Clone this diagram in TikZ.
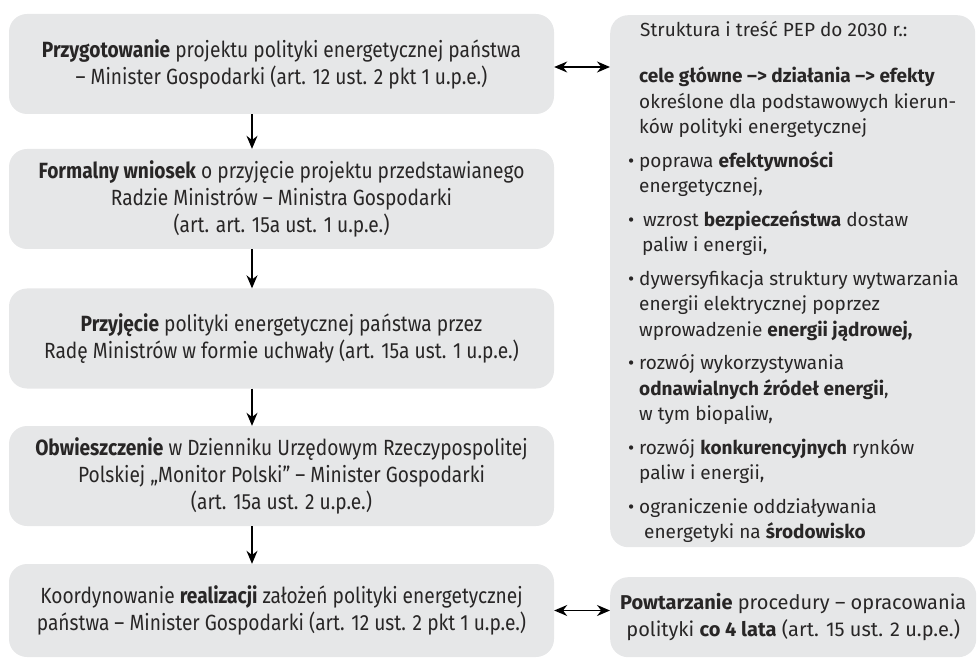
\documentclass[tikz,border=0pt]{standalone}
\usepackage{fontspec}
\setmainfont{Fira Sans}
\newfontfamily\narrowfont[FakeStretch=0.87]{Fira Sans}
\usetikzlibrary{arrows.meta}
\definecolor{boxgray}{RGB}{230,231,232}
\definecolor{textgray}{RGB}{40,38,38}
\newcommand{\pepitem}{\leavevmode\llap{\textbullet\ }}

\begin{document}
\begin{tikzpicture}[x=1pt,y=-1pt,
    stepbox/.style={rounded corners=18pt, fill=boxgray, text=textgray, align=center,
        minimum width=545pt, minimum height=100pt, inner sep=0pt,
        font=\narrowfont\fontsize{22}{27}\selectfont},
    sidebox/.style={rounded corners=18pt, fill=boxgray, text=textgray, inner sep=0pt},
    flow/.style={-{Stealth[length=13pt,width=11pt]}, line width=1.3pt},
    both/.style={{Stealth[length=13pt,width=11pt]}-{Stealth[length=13pt,width=11pt]}, line width=1.3pt}]
                \useasboundingbox (0,0) rectangle (977,660);
                
                % Procedure steps
                \node[stepbox] (prep) at (281.5, 64) {\textbf{Przygotowanie} projektu polityki energetycznej państwa\\ – Minister Gospodarki (art. 12 ust. 2 pkt 1 u.p.e.)};
                \node[stepbox] (wniosek) at (281.5, 199) {\textbf{Formalny wniosek} o przyjęcie projektu przedstawianego\\ Radzie Ministrów – Ministra Gospodarki\\ (art. art. 15a ust. 1 u.p.e.)};
                \node[stepbox] (przyj) at (281.5, 338.5) {\textbf{Przyjęcie} polityki energetycznej państwa przez\\ Radę Ministrów w formie uchwały (art. 15a ust. 1 u.p.e.)};
                \node[stepbox] (obwiesz) at (281.5, 476) {\textbf{Obwieszczenie} w Dzienniku Urzędowym Rzeczypospolitej\\ Polskiej „Monitor Polski” – Minister Gospodarki\\ (art. 15a ust. 2 u.p.e.)};
                \node[stepbox, minimum height=93pt] (koord) at (281.5, 610.5) {Koordynowanie \textbf{realizacji} założeń polityki energetycznej\\ państwa – Minister Gospodarki (art. 12 ust. 2 pkt 1 u.p.e.)};
                
                % Structure of PEP
                \node[sidebox, anchor=north west, minimum width=365pt, minimum height=532pt] (pep) at (610, 15) {};
                \node[anchor=north west, align=left, inner sep=0pt, text=textgray,
                    font=\fontsize{19}{25.5}\selectfont] (peptext) at ([xshift=29pt, yshift=-6pt]pep.north west) {\hspace*{1pt}Struktura i treść PEP do 2030 r.:\\[21pt]
                    \textbf{cele główne –> działania –> efekty}\\ określone dla  podstawowych kierun-\\ ków polityki energetycznej\\[8pt]
                    \pepitem poprawa \textbf{efektywności}\\ energetycznej,\\[8pt]
                    \pepitem\hspace*{4pt}wzrost \textbf{bezpieczeństwa} dostaw\\ \hspace*{3pt}paliw i energii,\\[8pt]
                    \pepitem dywersyfikacja struktury wytwarzania\\ energii elektrycznej poprzez\\ wprowadzenie \textbf{energii jądrowej,}\\[8pt]
                    \pepitem rozwój wykorzystywania\\ \textbf{odnawialnych źródeł energii},\\ w tym biopaliw,\\[8pt]
                    \pepitem rozwój \textbf{konkurencyjnych} rynków\\ paliw i energii,\\[8pt]
                    \pepitem ograniczenie oddziaływania\\ \hspace*{5pt}energetyki na \textbf{środowisko}};
                
                % Repetition
                \node[sidebox, anchor=north west, minimum width=366pt, minimum height=80pt, align=center,
                    font=\fontsize{20}{27}\selectfont] (powt) at (610, 577) {\textbf{Powtarzanie} procedury – opracowania\\ polityki \textbf{co 4 lata} (art. 15 ust. 2 u.p.e.)};
                
                % Arrows
                \coordinate (ax) at (252, 0);
                \draw[flow] (prep.south -| ax) -- (wniosek.north -| ax);
                \draw[flow] (wniosek.south -| ax) -- (przyj.north -| ax);
                \draw[flow] (przyj.south -| ax) -- (obwiesz.north -| ax);
                \draw[flow] (obwiesz.south -| ax) -- (koord.north -| ax);
                \draw[both] ([yshift=-3pt]prep.east) -- ([yshift=-3pt]prep.east -| pep.west);
                \draw[both] (koord.east) -- (koord.east -| powt.west);
            \end{tikzpicture}
\end{document}
